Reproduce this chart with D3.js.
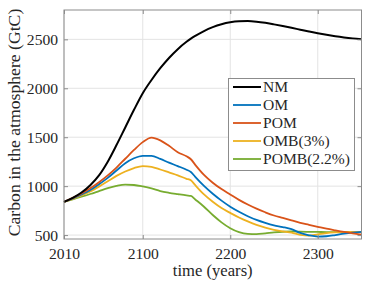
<!DOCTYPE html>
<html>
<head>
<meta charset="utf-8">
<script src="https://cdn.jsdelivr.net/npm/d3@7/dist/d3.min.js"></script>
<style>
  html, body { margin: 0; padding: 0; background: #fff; }
  svg { display: block; }
  svg text { font-family: "Liberation Serif", "Times New Roman", Times, serif; fill: #262626; }
</style>
</head>
<body>
<svg id="chart" width="371" height="284"></svg>
<script>
const years = [2010, 2020, 2030, 2040, 2050, 2060, 2070, 2080, 2090, 2100, 2110, 2120, 2130, 2140, 2150, 2155, 2160, 2170, 2180, 2190, 2200, 2210, 2220, 2230, 2240, 2250, 2260, 2270, 2280, 2290, 2300, 2310, 2320, 2330, 2340, 2350];

const seriesNames = ["NM", "OM", "POM", "OMB(3%)", "POMB(2.2%)"];

const valuesNM   = [840, 880, 935, 1010, 1110, 1250, 1420, 1600, 1780, 1950, 2085, 2205, 2310, 2400, 2475, 2507, 2535, 2585, 2625, 2655, 2675, 2685, 2687, 2681, 2669, 2653, 2636, 2618, 2599, 2580, 2562, 2546, 2532, 2520, 2510, 2502];
const valuesOM   = [840, 875, 915, 960, 1020, 1085, 1160, 1235, 1285, 1310, 1310, 1278, 1240, 1205, 1168, 1145, 1095, 1002, 922, 852, 790, 738, 693, 655, 625, 600, 582, 560, 522, 498, 485, 488, 500, 514, 525, 533];
const valuesPOM  = [840, 880, 925, 978, 1040, 1110, 1190, 1280, 1370, 1450, 1496, 1468, 1412, 1347, 1305, 1275, 1218, 1115, 1035, 970, 915, 860, 812, 770, 733, 700, 675, 650, 625, 605, 585, 565, 548, 532, 518, 505];
const valuesOMB  = [840, 870, 905, 945, 995, 1050, 1105, 1150, 1185, 1205, 1197, 1170, 1140, 1110, 1075, 1060, 1010, 915, 840, 776, 727, 680, 640, 605, 577, 554, 538, 524, 502, 494, 508, 520, 527, 531, 533, 533];
const valuesPOMB = [840, 865, 892, 920, 950, 980, 1003, 1016, 1012, 997, 977, 950, 932, 918, 905, 900, 864, 790, 705, 630, 570, 530, 512, 510, 518, 527, 534, 537, 535, 533, 532, 531, 531, 531, 531, 531];

const xTicks = [2010, 2100, 2200, 2300];
const yTicks = [500, 1000, 1500, 2000, 2500];
const xLabel = "time (years)";
const yLabel = "Carbon in the atmosphere (GtC)";

const colors = ["#000000", "#0072BD", "#D95319", "#EDB120", "#77AC30"];
const allValues = [valuesNM, valuesOM, valuesPOM, valuesOMB, valuesPOMB];

const W = 371, H = 284;
const m = { left: 64, right: 9.5, top: 10, bottom: 45 };
const svg = d3.select("#chart");

// font size calibration: legend text "POMB(2.2%)" is ~87px wide at the reference
const probe = svg.append("text").style("font-size", "15px").text("POMB(2.2%)");
const probeW = probe.node().getComputedTextLength();
probe.remove();
const fscale = probeW > 0 ? Math.min(1.15, Math.max(0.75, 87 / probeW)) : 1;
const fs = v => (v * fscale).toFixed(2) + "px";

const x = d3.scaleLinear().domain([2010, 2350]).range([m.left, W - m.right]);
const y = d3.scaleLinear().domain([460, 2800]).range([H - m.bottom, m.top]);

const x0 = m.left, x1 = W - m.right, y0 = H - m.bottom, y1 = m.top;

// grid
const grid = svg.append("g");
grid.selectAll(".gx").data(xTicks).join("line")
  .attr("x1", d => x(d)).attr("x2", d => x(d)).attr("y1", y0).attr("y2", y1)
  .attr("stroke", "#e3e3e3").attr("stroke-width", 1);
grid.selectAll(".gy").data(yTicks).join("line")
  .attr("y1", d => y(d)).attr("y2", d => y(d)).attr("x1", x0).attr("x2", x1)
  .attr("stroke", "#e3e3e3").attr("stroke-width", 1);

// curves
const line = d3.line().x((d, i) => x(years[i])).y(d => y(d)).curve(d3.curveMonotoneX);
const order = [4, 3, 1, 2, 0];
order.forEach(k => {
  svg.append("path").datum(allValues[k])
    .attr("d", line).attr("fill", "none")
    .attr("stroke", colors[k]).attr("stroke-width", k === 0 ? 2 : 1.8)
    .attr("stroke-linejoin", "round");
});

// axes (inward ticks, box)
const axColor = "#8c8c8c";
const bottomAxis = d3.axisBottom(x).tickValues(xTicks).tickSize(-4).tickPadding(9).tickFormat(d3.format("d"));
const leftAxis = d3.axisLeft(y).tickValues(yTicks).tickSize(-4).tickPadding(6).tickFormat(d3.format("d"));
const topAxis = d3.axisTop(x).tickValues(xTicks).tickSize(-4).tickFormat("");
const rightAxis = d3.axisRight(y).tickValues(yTicks).tickSize(-4).tickFormat("");

function styleAxis(g) {
  g.attr("font-family", null).attr("font-size", null);
  g.select(".domain").attr("stroke", axColor);
  g.selectAll(".tick line").attr("stroke", axColor);
  g.selectAll(".tick text").attr("fill", "#262626").style("font-size", fs(15));
}
svg.append("g").attr("transform", `translate(0,${y0})`).call(bottomAxis).call(styleAxis);
svg.append("g").attr("transform", `translate(${x0},0)`).call(leftAxis).call(styleAxis);
svg.append("g").attr("transform", `translate(0,${y1})`).call(topAxis).call(styleAxis);
svg.append("g").attr("transform", `translate(${x1},0)`).call(rightAxis).call(styleAxis);
svg.selectAll(".domain").attr("d", null);
svg.append("rect").attr("x", x0).attr("y", y1).attr("width", x1 - x0).attr("height", y0 - y1)
  .attr("fill", "none").attr("stroke", axColor).attr("stroke-width", 1);

// labels
svg.append("text").attr("x", (x0 + x1) / 2).attr("y", 275.5).attr("text-anchor", "middle")
  .style("font-size", fs(16)).text(xLabel);
svg.append("text").attr("transform", `translate(20,${(y0 + y1) / 2 - 2}) rotate(-90)`)
  .attr("text-anchor", "middle").style("font-size", fs(17)).text(yLabel);

// legend
const lg = svg.append("g");
lg.append("rect").attr("x", 228.5).attr("y", 78.5).attr("width", 126).attr("height", 92)
  .attr("fill", "#fff").attr("stroke", axColor).attr("stroke-width", 1);
seriesNames.forEach((name, i) => {
  const cy = 87 + i * 18;
  lg.append("line").attr("x1", 233).attr("x2", 261).attr("y1", cy).attr("y2", cy)
    .attr("stroke", colors[i]).attr("stroke-width", i === 0 ? 2 : 1.8);
  lg.append("text").attr("x", 263).attr("y", cy + 5).style("font-size", fs(15)).text(name);
});
</script>
</body>
</html>
